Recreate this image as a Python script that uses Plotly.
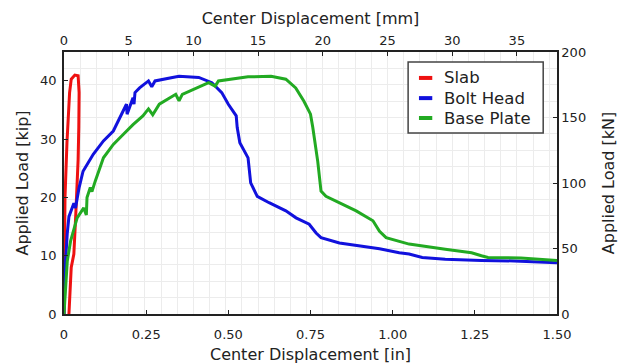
import plotly.graph_objects as go

# Center displacement [in], applied load [kip]
slab_x = [0.0, 0.001, 0.003, 0.009, 0.017, 0.022, 0.033, 0.043, 0.046, 0.045, 0.043, 0.036, 0.030, 0.022, 0.018, 0.015]
slab_y = [0.0, 10.0, 20.0, 29.4, 38.0, 40.3, 41.0, 40.9, 38.0, 32.0, 26.5, 17.3, 10.3, 8.0, 3.0, 0.0]

bolt_x = [0.0, 0.005, 0.010, 0.015, 0.030, 0.035, 0.046, 0.058, 0.089, 0.12, 0.15, 0.18, 0.19, 0.192, 0.21, 0.213, 0.216,
          0.23, 0.257, 0.267, 0.277, 0.33, 0.35, 0.41, 0.45, 0.48, 0.50, 0.524, 0.527, 0.535, 0.56, 0.568, 0.588,
          0.624, 0.675, 0.706, 0.746, 0.767, 0.782, 0.838, 0.92, 0.96, 1.02, 1.05, 1.09, 1.16, 1.27, 1.37, 1.50]
bolt_y = [0.0, 9.3, 13.9, 16.7, 19.0, 18.2, 21.7, 24.5, 27.4, 29.7, 31.4, 34.8, 36.0, 34.3, 37.1, 36.0, 38.0,
          38.8, 40.0, 39.0, 40.0, 40.6, 40.8, 40.6, 39.7, 38.0, 36.0, 34.0, 32.0, 29.4, 26.8, 22.5, 20.2,
          19.1, 17.7, 16.5, 15.4, 13.9, 13.1, 12.2, 11.5, 11.2, 10.5, 10.3, 9.7, 9.4, 9.2, 9.1, 8.8]

base_x = [0.0, 0.010, 0.020, 0.040, 0.060, 0.068, 0.070, 0.080, 0.085, 0.095, 0.12, 0.15, 0.18, 0.21, 0.24, 0.257,
          0.27, 0.29, 0.34, 0.35, 0.36, 0.44, 0.46, 0.47, 0.56, 0.63, 0.675, 0.705, 0.73, 0.75, 0.757, 0.765,
          0.772, 0.782, 0.797, 0.848, 0.889, 0.94, 0.96, 0.98, 1.05, 1.16, 1.24, 1.27, 1.29, 1.39, 1.50]
base_y = [0.0, 9.1, 12.5, 16.5, 18.2, 17.0, 20.0, 21.7, 21.0, 22.8, 26.8, 29.1, 30.8, 32.5, 34.0, 35.2,
          34.2, 36.0, 37.7, 36.6, 37.7, 39.7, 39.1, 40.0, 40.7, 40.8, 40.3, 38.8, 36.5, 34.3, 32.0, 29.0,
          26.2, 21.1, 20.2, 18.8, 17.7, 16.0, 14.2, 13.1, 12.0, 11.1, 10.5, 10.0, 9.7, 9.6, 9.2]

series_names = ["Slab", "Bolt Head", "Base Plate"]
series_colors = ["#ee1111", "#1111dd", "#22aa22"]

x_ticks_in = [0, 0.25, 0.5, 0.75, 1.0, 1.25, 1.5]
x_ticktext_in = ["0", "0.25", "0.50", "0.75", "1.00", "1.25", "1.50"]
x_ticks_mm = [0, 5, 10, 15, 20, 25, 30, 35]
y_ticks_kip = [0, 10, 20, 30, 40]
y_ticks_kn = [0, 50, 100, 150, 200]

KIP_PER_KN = 1 / 4.448222
X_MAX_IN = 1.5
Y_MAX_KN = 200

FONT = "DejaVu Sans, Liberation Sans, Arial, sans-serif"
font_color = "#222222"
grid_color = "#ececec"

fig = go.Figure()
for name, color, xs, ys in zip(series_names, series_colors,
                               [slab_x, bolt_x, base_x], [slab_y, bolt_y, base_y]):
    fig.add_trace(go.Scatter(x=xs, y=ys, mode="lines", name=name,
                             line=dict(color=color, width=3)))

# empty trace to activate secondary axes
fig.add_trace(go.Scatter(x=[], y=[], xaxis="x2", yaxis="y2", showlegend=False, hoverinfo="skip"))

# manual legend (short line samples, as in the reference)
leg_box = dict(x0=0.698, x1=0.972, y0=0.691, y1=0.962)
leg_rows = [0.901, 0.824, 0.748]
fig.add_shape(type="rect", xref="paper", yref="paper", **leg_box,
              line=dict(color="#444444", width=1.5), fillcolor="white", layer="above")
for name, color, yy in zip(series_names, series_colors, leg_rows):
    fig.add_shape(type="line", xref="paper", yref="paper", x0=0.720, x1=0.747, y0=yy, y1=yy,
                  line=dict(color=color, width=4), layer="above")
    fig.add_annotation(xref="paper", yref="paper", x=0.766, y=yy, text=name, showarrow=False,
                       xanchor="left", yanchor="middle", font=dict(size=16.5, color=font_color, family=FONT))

axis_common = dict(showline=True, linecolor="#222222", linewidth=1.5, ticks="inside", ticklen=4,
                   tickcolor="#222222", tickfont=dict(size=13, color=font_color), zeroline=False,
                   automargin=False)

fig.update_layout(
    width=618, height=364,
    margin=dict(l=64, r=61, t=52, b=50),
    paper_bgcolor="white", plot_bgcolor="white",
    font=dict(family=FONT, color=font_color),
    showlegend=False,
    xaxis=dict(range=[0, X_MAX_IN], tickvals=x_ticks_in, ticktext=x_ticktext_in, showgrid=False,
               ticklabelstandoff=8,
               title=dict(text="Center Displacement [in]", font=dict(size=16), standoff=8), **axis_common),
    yaxis=dict(range=[0, Y_MAX_KN * KIP_PER_KN], tickvals=y_ticks_kip, showgrid=False,
               ticklabelstandoff=3,
               title=dict(text="Applied Load [kip]", font=dict(size=16), standoff=8), **axis_common),
    xaxis2=dict(range=[0, X_MAX_IN * 25.4], tickvals=x_ticks_mm, overlaying="x", side="top", anchor="y",
                showgrid=True, gridcolor=grid_color,
                minor=dict(dtick=1.25, tick0=0, showgrid=True, gridcolor=grid_color, ticks=""),
                title=dict(text="Center Displacement [mm]", font=dict(size=16), standoff=4), **axis_common),
    yaxis2=dict(range=[0, Y_MAX_KN], tickvals=y_ticks_kn, overlaying="y", side="right", anchor="x",
                showgrid=True, gridcolor=grid_color,
                minor=dict(dtick=12.5, tick0=0, showgrid=True, gridcolor=grid_color, ticks=""),
                title=dict(text="Applied Load [kN]", font=dict(size=16), standoff=20), **axis_common),
)

fig.write_html("out.html")
